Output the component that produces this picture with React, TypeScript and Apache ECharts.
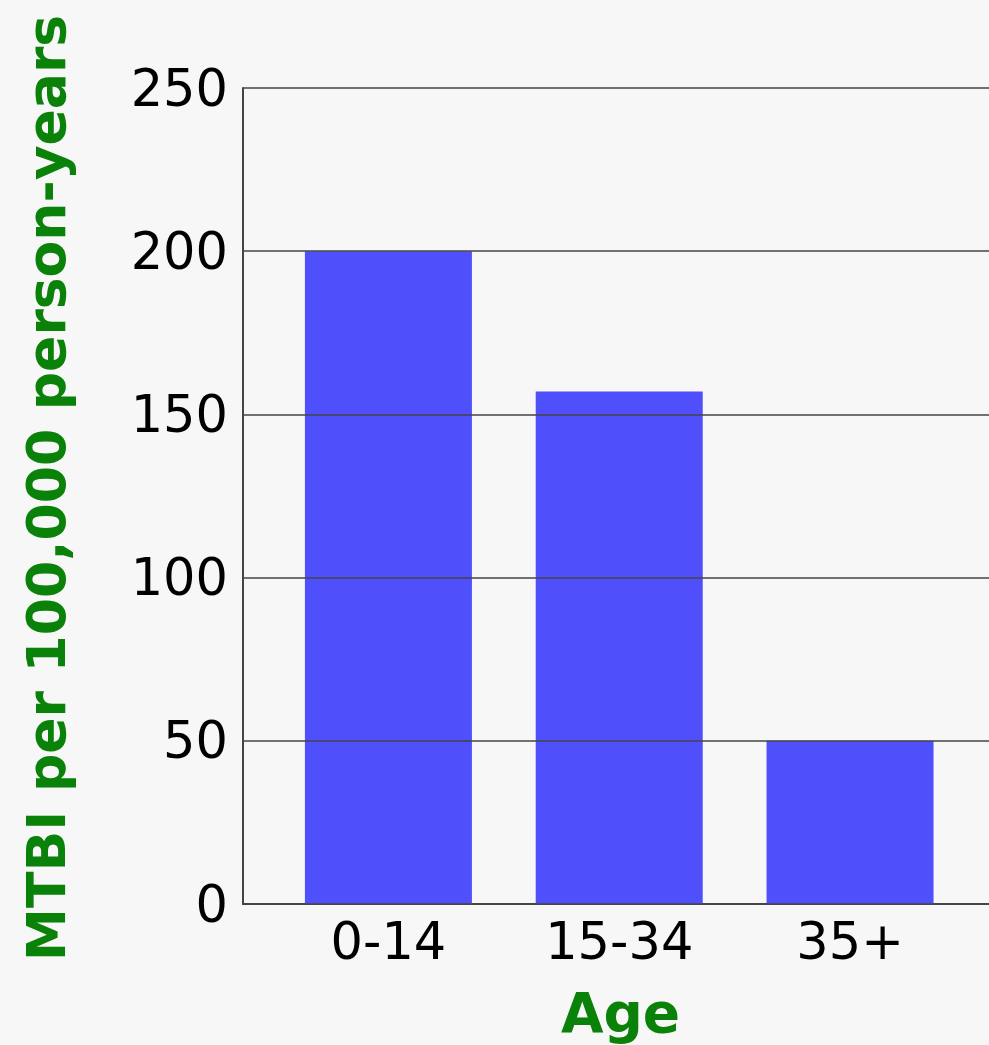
import React, { useEffect, useRef } from "react";
import * as echarts from "echarts";

const categories: string[] = ["0-14", "15-34", "35+"];
const values: number[] = [200, 157, 50];
const yTicks: number[] = [0, 50, 100, 150, 200, 250];
const yTitle = "MTBI per 100,000 person-years";
const xTitle = "Age";

const FONT = "DejaVu Sans";
const GREEN = "#0a820a";

export default function App() {
  const ref = useRef<HTMLDivElement>(null);
  useEffect(() => {
    if (!ref.current) return;
    const chart = echarts.init(ref.current, null, { renderer: "svg" });
    const positions = categories.map((_, i) => i + 1);
    chart.setOption({
      animation: false,
      backgroundColor: "#f7f7f7",
      grid: { left: 243, top: 88, bottom: 139, right: 0, containLabel: false },
      xAxis: {
        type: "value",
        min: 0.37,
        max: 3.68,
        name: xTitle,
        nameLocation: "middle",
        nameGap: 81,
        nameTextStyle: {
          color: GREEN,
          fontSize: 55,
          fontWeight: "bold",
          fontFamily: FONT,
          padding: [0, 9, 0, 0],
        },
        axisLine: { show: true, lineStyle: { color: "#444", width: 2 } },
        axisTick: { show: false },
        splitLine: { show: false },
        axisLabel: {
          customValues: positions,
          formatter: (v: number) => categories[Math.round(v) - 1] ?? "",
          fontSize: 51,
          color: "#000",
          fontFamily: FONT,
          margin: 12,
        },
      },
      yAxis: {
        type: "value",
        min: yTicks[0],
        max: yTicks[yTicks.length - 1],
        interval: yTicks[1] - yTicks[0],
        z: 3,
        name: yTitle,
        nameLocation: "middle",
        nameGap: 170,
        nameTextStyle: {
          color: GREEN,
          fontSize: 53.5,
          fontWeight: "bold",
          fontFamily: FONT,
          padding: [0, 0, 0, 16],
        },
        axisLine: { show: true, lineStyle: { color: "#444", width: 2 } },
        axisTick: { show: false },
        splitLine: { show: true, lineStyle: { color: "#444", width: 1.5 } },
        axisLabel: { fontSize: 51, color: "#000", fontFamily: FONT, margin: 15 },
      },
      series: [
        {
          type: "bar",
          data: values.map((v, i) => [positions[i], v]),
          barWidth: 167,
          itemStyle: { color: "#4f4ffc" },
        },
      ],
    });
    return () => chart.dispose();
  }, []);
  return (
    <div
      style={{
        position: "absolute",
        left: 0,
        top: 0,
        width: 989,
        height: 1045,
        overflow: "hidden",
        background: "#f7f7f7",
      }}
    >
      <div ref={ref} style={{ width: 1007, height: 1045 }} />
    </div>
  );
}
